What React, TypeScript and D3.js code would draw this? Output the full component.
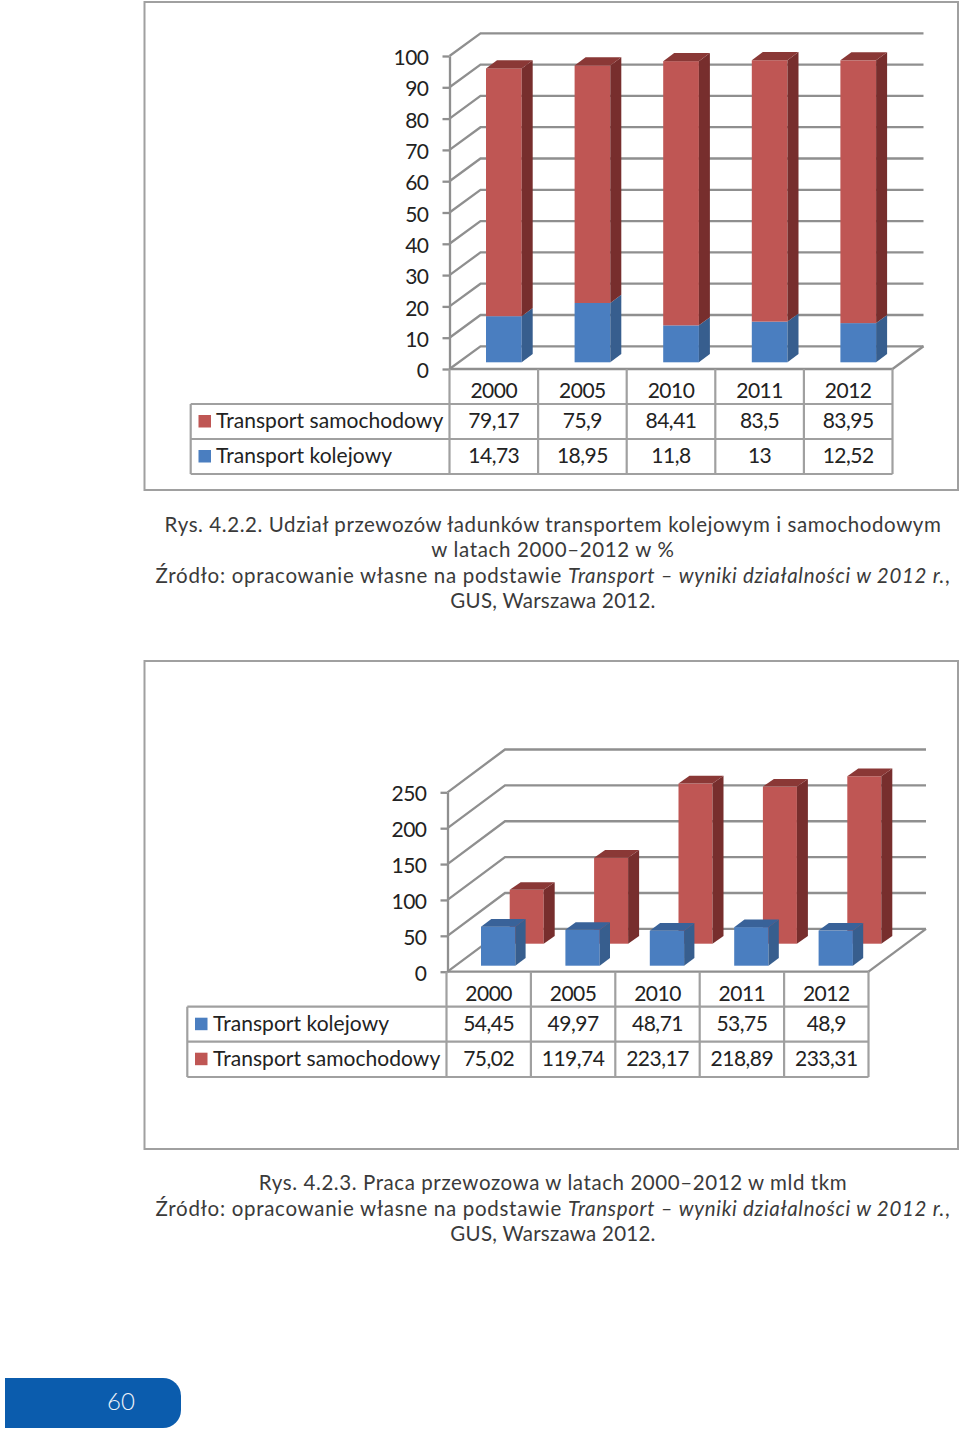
import React, { useEffect, useRef } from 'react';
import * as d3 from 'd3';

const shareYears = ['2000', '2005', '2010', '2011', '2012'];
const shareRoad = [79.17, 75.9, 84.41, 83.5, 83.95];
const shareRail = [14.73, 18.95, 11.8, 13, 12.52];
const shareRoadLabels = ['79,17', '75,9', '84,41', '83,5', '83,95'];
const shareRailLabels = ['14,73', '18,95', '11,8', '13', '12,52'];
const shareTicks = [0, 10, 20, 30, 40, 50, 60, 70, 80, 90, 100];

const workYears = ['2000', '2005', '2010', '2011', '2012'];
const workRail = [54.45, 49.97, 48.71, 53.75, 48.9];
const workRoad = [75.02, 119.74, 223.17, 218.89, 233.31];
const workRailLabels = ['54,45', '49,97', '48,71', '53,75', '48,9'];
const workRoadLabels = ['75,02', '119,74', '223,17', '218,89', '233,31'];
const workTicks = [0, 50, 100, 150, 200, 250];

const RED = { front: '#bf5654', side: '#772e2d', top: '#8a3836' };
const BLUE = { front: '#4a7ec0', side: '#375e8e', top: '#396299' };
const GRID = '#8f8f8f';
const CHART_FONT = 'Lato, sans-serif';
const CAPTION_FONT = 'Lato, sans-serif';

type Sel = d3.Selection<SVGGElement, unknown, null, undefined>;

// one extruded bar: front, side and top faces
function drawBar(g: Sel, x0: number, x1: number, yTop: number, yBase: number, dx: number, dy: number, c: typeof RED, withTop = true) {
    g.append('rect').attr('x', x0).attr('y', yTop).attr('width', x1 - x0).attr('height', yBase - yTop).attr('fill', c.front);
    g.append('polygon')
        .attr('points', `${x1},${yTop} ${x1 + dx},${yTop - dy} ${x1 + dx},${yBase - dy} ${x1},${yBase}`)
        .attr('fill', c.side);
    if (withTop) {
        g.append('polygon')
            .attr('points', `${x0},${yTop} ${x0 + dx},${yTop - dy} ${x1 + dx},${yTop - dy} ${x1},${yTop}`)
            .attr('fill', c.top);
    }
}

// back wall grid, floor and the value axis
function drawWalls(g: Sel, y: d3.ScaleLinear<number, number>, ticks: number[], left: number, right: number, depthX: number, depthY: number) {
    ticks.forEach(t => {
        const yy = y(t);
        g.append('path')
            .attr('d', `M${left},${yy}L${left + depthX},${yy - depthY}L${right + depthX},${yy - depthY}`)
            .attr('fill', 'none').attr('stroke', GRID).attr('stroke-width', 2.3);
    });
    const y0 = y(0);
    g.append('path')
        .attr('d', `M${right},${y0}L${right + depthX},${y0 - depthY}`)
        .attr('fill', 'none').attr('stroke', GRID).attr('stroke-width', 2.3);
}

function drawAxis(g: Sel, y: d3.ScaleLinear<number, number>, ticks: number[], left: number, right: number) {
    const axis = g.append('g').attr('transform', `translate(${left},0)`)
        .call(d3.axisLeft(y).tickValues(ticks).tickSize(7).tickSizeOuter(0).tickPadding(14));
    axis.selectAll('path, line').attr('stroke', GRID).attr('stroke-width', 2.3);
    axis.selectAll('text').attr('font-family', CHART_FONT).attr('font-size', 21).attr('letter-spacing', -0.5)
        .attr('dy', '0.41em').attr('fill', '#222');
    g.append('line').attr('x1', left).attr('x2', right).attr('y1', y(0)).attr('y2', y(0)).attr('stroke', GRID).attr('stroke-width', 2.3);
}

interface TableRow { name: string; color: string; labels: string[]; }

function drawTable(g: Sel, x: d3.ScaleBand<string>, years: string[], rows: TableRow[], tableLeft: number, rowY: number[], swatchX: number, textX: number) {
    const right = x.range()[1];
    const left = x.range()[0];
    const line = (x1: number, y1: number, x2: number, y2: number) =>
        g.append('line').attr('x1', x1).attr('y1', y1).attr('x2', x2).attr('y2', y2).attr('stroke', '#a0a0a0').attr('stroke-width', 2.2);
    rowY.slice(1).forEach(yy => line(tableLeft, yy, right, yy));
    line(tableLeft, rowY[1], tableLeft, rowY[3]);
    line(left, rowY[0], left, rowY[3]);
    years.forEach(yr => line((x(yr) as number) + x.bandwidth(), rowY[0], (x(yr) as number) + x.bandwidth(), rowY[3]));

    const cell = (tx: number, ty: number, s: string, anchor = 'middle', spacing = -0.5) =>
        g.append('text').attr('x', tx).attr('y', ty).attr('text-anchor', anchor).attr('letter-spacing', spacing)
            .attr('font-family', CHART_FONT).attr('font-size', 21).attr('fill', '#222').text(s);

    years.forEach(yr => cell((x(yr) as number) + x.bandwidth() / 2, rowY[0] + 29, yr));
    rows.forEach((row, i) => {
        const top = rowY[i + 1];
        g.append('rect').attr('x', swatchX).attr('y', top + 11).attr('width', 12.5).attr('height', 12.5).attr('fill', row.color);
        cell(textX, top + 24, row.name, 'start', 0.05);
        years.forEach((yr, j) => cell((x(yr) as number) + x.bandwidth() / 2, top + 24, row.labels[j]));
    });
}

function drawCaption(g: Sel, lines: [number, number, string, string?, string?][]) {
    lines.forEach(([yy, spacing, a, it, b]) => {
        const t = g.append('text').attr('x', 553).attr('y', yy).attr('text-anchor', 'middle')
            .attr('font-family', CAPTION_FONT).attr('font-size', 20.5).attr('fill', '#3a3a3a').attr('letter-spacing', spacing);
        t.append('tspan').text(a);
        if (it) t.append('tspan').attr('font-style', 'italic').text(it);
        if (b) t.append('tspan').text(b);
    });
}

const App = () => {
    const ref = useRef<SVGSVGElement>(null);

    useEffect(() => {
        const svg = d3.select(ref.current as SVGSVGElement);
        svg.selectAll('*').remove();

        // frames
        [[2, 488], [661, 488]].forEach(([top, h]) => {
            svg.append('rect').attr('x', 144.5).attr('y', top).attr('width', 813.5).attr('height', h)
                .attr('fill', 'white').attr('stroke', '#a0a0a0').attr('stroke-width', 2);
        });

        // first chart: stacked shares
        const g1 = svg.append('g') as unknown as Sel;
        const y1 = d3.scaleLinear().domain([0, 100]).range([369, 56]);
        const x1 = d3.scaleBand<string>().domain(shareYears).range([449.5, 892.5]);
        const barY1 = (v: number) => y1(v) - 6.7;
        drawWalls(g1, y1, shareTicks, 449.5, 892.5, 31, 22.7);
        shareYears.forEach((yr, i) => {
            const a = (x1(yr) as number) + 36.5;
            const b = a + 35.7;
            drawBar(g1, a, b, barY1(shareRail[i]), barY1(0), 11, 8.2, BLUE, false);
            drawBar(g1, a, b, barY1(shareRail[i] + shareRoad[i]), barY1(shareRail[i]), 11, 8.2, RED);
        });
        drawAxis(g1, y1, shareTicks, 449.5, 892.5);
        drawTable(g1, x1, shareYears, [
            { name: 'Transport samochodowy', color: RED.front, labels: shareRoadLabels },
            { name: 'Transport kolejowy', color: BLUE.front, labels: shareRailLabels },
        ], 190.7, [369, 404, 439, 474], 198.5, 216);

        // second chart: two rows of columns
        const g2 = svg.append('g') as unknown as Sel;
        const y2 = d3.scaleLinear().domain([0, 250]).range([971.7, 792.3]);
        const x2 = d3.scaleBand<string>().domain(workYears).range([446.5, 868.5]);
        drawWalls(g2, y2, workTicks, 447.5, 868.5, 57.5, 42.8);
        workYears.forEach((yr, i) => {
            const c = x2(yr) as number;
            drawBar(g2, c + 63.2, c + 97.2, y2(workRoad[i]) - 28, y2(0) - 28, 11, 7.7, RED);
        });
        workYears.forEach((yr, i) => {
            const c = x2(yr) as number;
            drawBar(g2, c + 34.5, c + 68.8, y2(workRail[i]) - 6, y2(0) - 6, 10.3, 7.7, BLUE);
        });
        drawAxis(g2, y2, workTicks, 447.5, 868.5);
        drawTable(g2, x2, workYears, [
            { name: 'Transport kolejowy', color: BLUE.front, labels: workRailLabels },
            { name: 'Transport samochodowy', color: RED.front, labels: workRoadLabels },
        ], 187.3, [971.7, 1006.7, 1041.7, 1077], 195, 213);

        // captions
        const cap = svg.append('g') as unknown as Sel;
        drawCaption(cap, [
            [532, 0.58, 'Rys. 4.2.2. Udział przewozów ładunków transportem kolejowym i samochodowym'],
            [557, 0.65, 'w latach 2000–2012 w %'],
            [583, 0.7, 'Źródło: opracowanie własne na podstawie ', 'Transport – wyniki działalności w 2012 r.', ','],
            [608, 0.25, 'GUS, Warszawa 2012.'],
            [1190, 0.58, 'Rys. 4.2.3. Praca przewozowa w latach 2000–2012 w mld tkm'],
            [1216, 0.7, 'Źródło: opracowanie własne na podstawie ', 'Transport – wyniki działalności w 2012 r.', ','],
            [1241, 0.25, 'GUS, Warszawa 2012.'],
        ]);

        // page number tab
        svg.append('path').attr('d', 'M5,1378H163A18,18 0 0 1 181,1396V1410A18,18 0 0 1 163,1428H5Z').attr('fill', '#0b5cad');
        svg.append('text').attr('x', 121).attr('y', 1409.5).attr('text-anchor', 'middle')
            .attr('font-family', CAPTION_FONT).attr('font-size', 24).attr('font-weight', 300).attr('fill', '#eef3fa').text('60');
    }, []);

    return <svg ref={ref} width={960} height={1431} style={{ position: 'absolute', left: 0, top: 0, background: 'white' }} />;
};

export default App;
